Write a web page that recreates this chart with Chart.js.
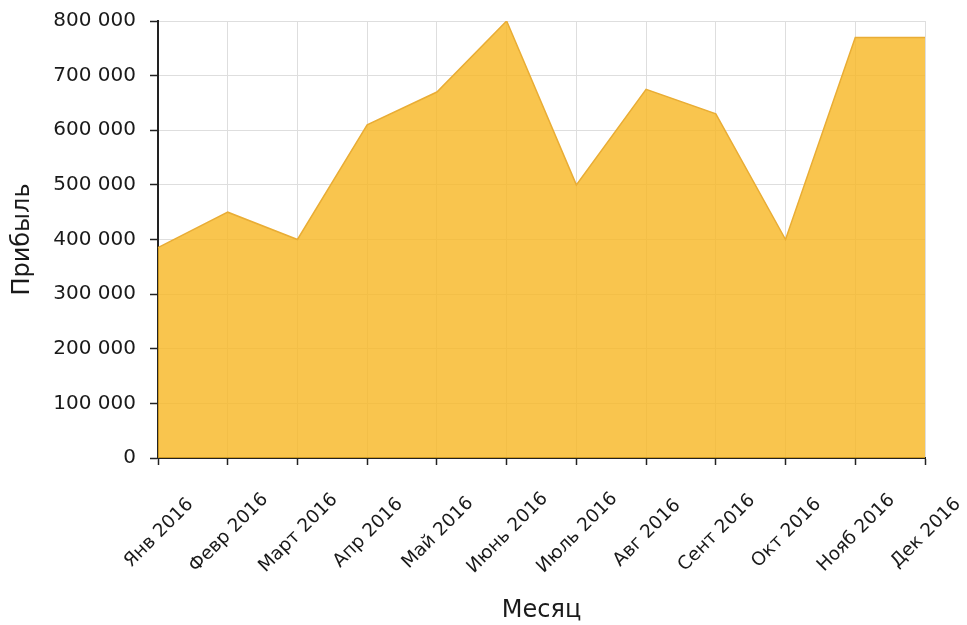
<!DOCTYPE html>
<html>
<head>
<meta charset="utf-8">
<script src="https://cdn.jsdelivr.net/npm/chart.js@4.4.1/dist/chart.umd.min.js"></script>
<style>
    html, body { margin: 0; padding: 0; background: #fff; }
    #wrap { width: 967px; height: 625px; }
</style>
</head>
<body>
<div id="wrap"><canvas id="profitChart" width="967" height="625"></canvas></div>
<script>
const months = ['Янв 2016', 'Февр 2016', 'Март 2016', 'Апр 2016', 'Май 2016', 'Июнь 2016',
    'Июль 2016', 'Авг 2016', 'Сент 2016', 'Окт 2016', 'Нояб 2016', 'Дек 2016'];
const profit = [385000, 450000, 400000, 610000, 670000, 800000,
    500000, 675000, 630000, 400000, 770000, 770000];

const fontFamily = "'DejaVu Sans', Verdana, sans-serif";
const textColor = '#1a1a1a';

// month labels are drawn by hand: rotated -45deg around their own centre under each tick
const rotatedMonthLabels = {
    id: 'rotatedMonthLabels',
    afterDraw(chart) {
        const xScale = chart.scales.x;
        const c = chart.ctx;
        c.save();
        c.font = `18.5px ${fontFamily}`;
        c.fillStyle = textColor;
        c.textAlign = 'center';
        c.textBaseline = 'middle';
        xScale.getLabels().forEach((label, i) => {
            const px = xScale.getPixelForTick(i);
            c.save();
            c.translate(px + 1, xScale.top + 75);
            c.rotate(-Math.PI / 4);
            c.fillText(label, 0, 0);
            c.restore();
        });
        c.restore();
    }
};

new Chart(document.getElementById('profitChart'), {
    type: 'line',
    data: {
        labels: months,
        datasets: [
            {
                label: 'Прибыль',
                data: profit,
                fill: 'origin',
                backgroundColor: 'rgba(247, 182, 34, 0.8)',
                borderColor: '#e9ad35',
                borderWidth: 1.5,
                pointRadius: 0,
                pointHoverRadius: 0,
                tension: 0,
            },
        ],
    },
    options: {
        responsive: false,
        animation: false,
        layout: {
            padding: { top: 21, right: 42, bottom: 0, left: 0 },
        },
        plugins: {
            legend: { display: false },
            tooltip: { enabled: false },
        },
        scales: {
            x: {
                grid: {
                    color: '#dedede',
                    tickColor: '#222',
                    tickLength: 7,
                    lineWidth: 1,
                    tickWidth: 1.5,
                },
                border: { color: '#222', width: 2 },
                ticks: { display: false },
                title: {
                    display: true,
                    text: 'Месяц',
                    color: textColor,
                    font: { family: fontFamily, size: 24 },
                    padding: { top: 0, bottom: 0 },
                },
                afterFit(scale) {
                    scale.height = 167;
                },
            },
            y: {
                min: 0,
                max: 800000,
                grid: {
                    color: '#dedede',
                    tickColor: '#222',
                    tickLength: 8,
                    lineWidth: 1,
                    tickWidth: 1.5,
                },
                border: { color: '#222', width: 2 },
                ticks: {
                    stepSize: 100000,
                    padding: 14,
                    color: textColor,
                    font: { family: fontFamily, size: 20 },
                    callback: (value) => String(value).replace(/\B(?=(\d{3})+(?!\d))/g, ' '),
                },
                title: {
                    display: true,
                    text: 'Прибыль',
                    color: textColor,
                    font: { family: fontFamily, size: 24 },
                    padding: { top: 8, bottom: 0 },
                },
                afterFit(scale) {
                    scale.width = 158;
                    // plot edges are set by layout padding only
                    scale.paddingTop = 0;
                    scale.paddingBottom = 0;
                },
            },
        },
    },
    plugins: [rotatedMonthLabels],
});
</script>
</body>
</html>
